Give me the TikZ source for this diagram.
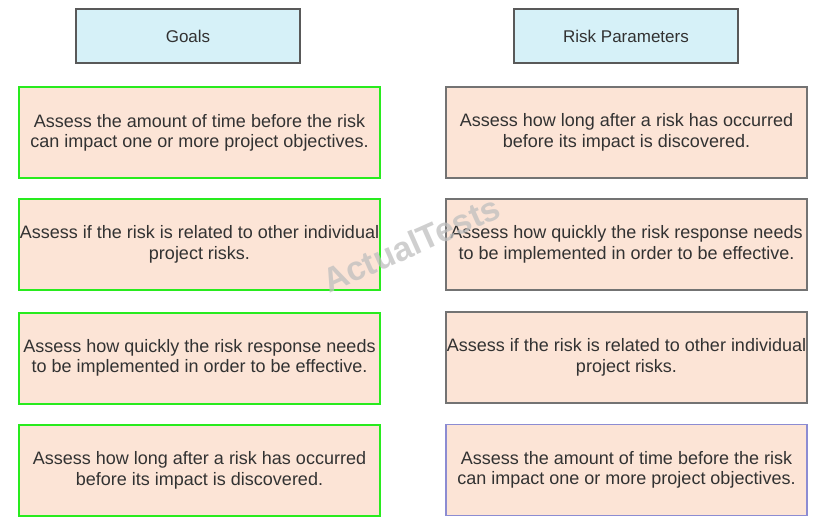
\documentclass[tikz,border=0pt]{standalone}
\usepackage{fontspec}
\setmainfont{Liberation Sans}
\definecolor{peach}{RGB}{252,228,214}
\definecolor{skyfill}{RGB}{214,241,248}
\definecolor{greenline}{RGB}{40,235,30}
\definecolor{lilac}{RGB}{140,140,210}
\definecolor{ink}{RGB}{50,50,50}
\begin{document}
\begin{tikzpicture}[x=1pt,y=-1pt,
  header/.style={draw=black!65, line width=1.2pt, fill=skyfill, minimum width=224pt, minimum height=54pt,
    font=\fontsize{17}{20}\selectfont, text=ink},
  card/.style={fill=peach, minimum width=361pt, minimum height=91pt, align=center,
    font=\fontsize{18}{20.5}\selectfont, text=ink, inner sep=0pt},
  goalcard/.style={card, draw=greenline, line width=2pt},
  paramcard/.style={card, draw=black!55, line width=1.2pt},
  lastcard/.style={card, draw=lilac, line width=1.2pt}
]
\useasboundingbox (0,0) rectangle (829,526);

% column headings
\node[header] (goals) at (188,36) {Goals};
\node[header] (params) at (626,36) {Risk Parameters};

% goals column
\node[goalcard] (g1) at (199.5,133) {Assess the amount of time before the risk\\can impact one or more project objectives.};
\node[goalcard] (g2) at (199.5,244.5) {Assess if the risk is related to other individual\\project risks.};
\node[goalcard] (g3) at (199.5,358) {Assess how quickly the risk response needs\\to be implemented in order to be effective.};
\node[goalcard] (g4) at (199.5,470.5) {Assess how long after a risk has occurred\\before its impact is discovered.};

% risk parameter column
\node[paramcard] (p1) at (626.5,132.5) {Assess how long after a risk has occurred\\before its impact is discovered.};
\node[paramcard] (p2) at (626.5,244.5) {Assess how quickly the risk response needs\\to be implemented in order to be effective.};
\node[paramcard] (p3) at (626.5,357.5) {Assess if the risk is related to other individual\\project risks.};
\node[lastcard] (p4) at (626.5,470) {Assess the amount of time before the risk\\can impact one or more project objectives.};

% watermark
\node[rotate=24, text=black!25, opacity=0.75, font=\bfseries\fontsize{34}{34}\selectfont] (mark) at (411,244) {ActualTests};
\end{tikzpicture}
\end{document}
